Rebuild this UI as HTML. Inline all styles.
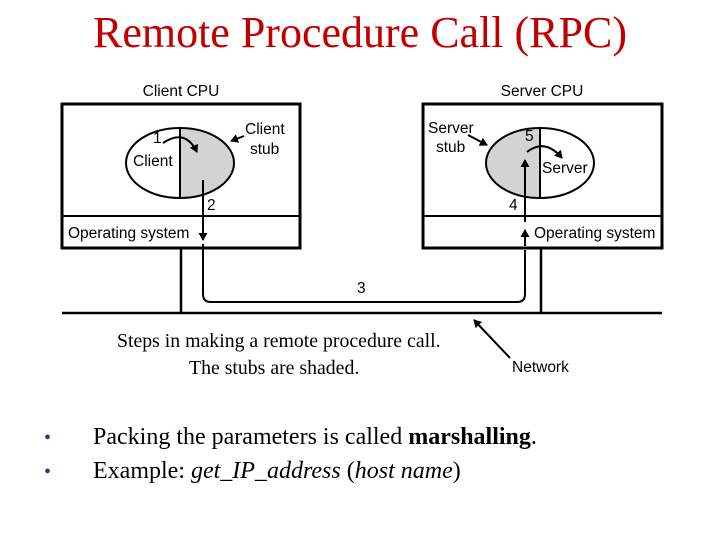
<!DOCTYPE html>
<html><head><style>
body{margin:0;width:720px;height:540px;background:#fff;overflow:hidden;position:relative;font-family:"Liberation Serif",serif}
.t{position:absolute;white-space:nowrap}
</style></head><body>
<div class="t" style="left:0;width:720px;text-align:center;top:7px;font-size:44px;color:#c00000">Remote Procedure Call (RPC)</div>
<svg width="720" height="540" style="position:absolute;left:0;top:0" font-family="Liberation Sans, sans-serif" font-size="15.5">
<defs><marker id="a" markerWidth="8" markerHeight="9" refX="7" refY="4.5" orient="auto" markerUnits="userSpaceOnUse"><path d="M0,0L8,4.5L0,9z" fill="#000"/></marker></defs>
<g stroke="#000" fill="none">
<rect x="62" y="104" width="238" height="144" stroke-width="3"/>
<line x1="62" y1="216" x2="300" y2="216" stroke-width="2"/>
<rect x="423" y="104" width="239" height="144" stroke-width="3"/>
<line x1="423" y1="216" x2="662" y2="216" stroke-width="2"/>
<line x1="62" y1="313" x2="662" y2="313" stroke-width="2.5"/>
<line x1="181" y1="248" x2="181" y2="313" stroke-width="2.5"/>
<line x1="541" y1="248" x2="541" y2="313" stroke-width="2.5"/>
<path d="M180,128 A54,35 0 0 1 180,198 Z" fill="#d3d3d3" stroke="none"/>
<ellipse cx="180" cy="163" rx="54" ry="35" stroke-width="2"/>
<line x1="180" y1="128" x2="180" y2="198" stroke-width="2"/>
<path d="M540,128 A54,35 0 0 0 540,198 Z" fill="#d3d3d3" stroke="none"/>
<ellipse cx="540" cy="163" rx="54" ry="35" stroke-width="2"/>
<line x1="540" y1="128" x2="540" y2="198" stroke-width="2"/>
<path d="M163,143 Q185,128 197,152" stroke-width="2" marker-end="url(#a)"/>
<path d="M527,152 Q545,138 562,158" stroke-width="2" marker-end="url(#a)"/>
<line x1="203" y1="180" x2="203" y2="240" stroke-width="2" marker-end="url(#a)"/>
<path d="M203,244 V294 Q203,302 211,302 H517 Q525,302 525,294 V250" stroke-width="2"/>
<line x1="525" y1="246" x2="525" y2="230" stroke-width="2" marker-end="url(#a)"/>
<line x1="525" y1="222" x2="525" y2="160" stroke-width="2" marker-end="url(#a)"/>
<line x1="244" y1="136" x2="231" y2="141" stroke-width="2" marker-end="url(#a)"/>
<line x1="468" y1="135" x2="487" y2="145" stroke-width="2" marker-end="url(#a)"/>
<line x1="510" y1="358" x2="474" y2="320" stroke-width="2" marker-end="url(#a)"/>
</g>
<g fill="#000">
<text x="181" y="96" text-anchor="middle">Client CPU</text>
<text x="542" y="96" text-anchor="middle">Server CPU</text>
<text x="133" y="166">Client</text>
<text x="153" y="143">1</text>
<text x="245" y="134">Client</text>
<text x="250" y="154">stub</text>
<text x="207" y="210">2</text>
<text x="68" y="238">Operating system</text>
<text x="428" y="133">Server</text>
<text x="436" y="152">stub</text>
<text x="525" y="141">5</text>
<text x="542" y="173">Server</text>
<text x="509" y="210">4</text>
<text x="534" y="238">Operating system</text>
<text x="357" y="293">3</text>
<text x="512" y="372">Network</text>
</g>
</svg>
<div class="t" style="left:117px;top:330px;font-size:19.8px">Steps in making a remote procedure call.</div>
<div class="t" style="left:189px;top:357px;font-size:19.8px">The stubs are shaded.</div>
<div class="t" style="left:44px;top:427px;font-size:20px;color:#333399">•</div>
<div class="t" style="left:44px;top:461px;font-size:20px;color:#333399">•</div>
<div class="t" style="left:93px;top:424px;font-size:24px">Packing the parameters is called <b>marshalling</b>.</div>
<div class="t" style="left:93px;top:458px;font-size:24px">Example: <i>get_IP_address</i> (<i>host name</i>)</div>
</body></html>
